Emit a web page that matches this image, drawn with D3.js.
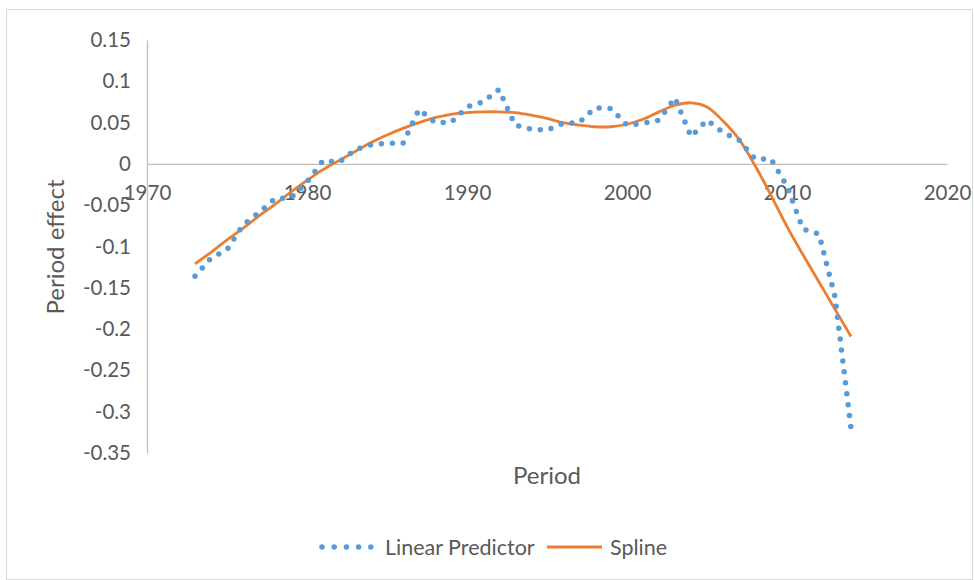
<!DOCTYPE html>
<html><head><meta charset="utf-8">
<script src="https://cdn.jsdelivr.net/npm/d3@7"></script>
<style>body{margin:0;background:#fff;} text{font-family:Lato, "Liberation Sans", sans-serif;fill:#595959;}</style>
</head><body>
<svg id="c" width="974" height="580"></svg>
<script>
const years = d3.range(1973, 2015);
const linearPredictor = [-0.136,-0.114,-0.104,-0.074,-0.059,-0.042,-0.041,-0.022,0.004,0.002,
 0.017,0.023,0.025,0.025,0.066,0.050,0.050,0.069,0.075,0.090,
 0.047,0.042,0.041,0.049,0.050,0.068,0.067,0.047,0.049,0.053,
 0.080,0.033,0.053,0.038,0.029,0.006,0.006,-0.027,-0.079,-0.085,
 -0.161,-0.320];
const spline = [-0.121,-0.107,-0.092,-0.078,-0.063,-0.049,-0.034,-0.020,-0.007,0.004,
 0.015,0.026,0.035,0.043,0.050,0.056,0.060,0.062,0.063,0.063,
 0.062,0.059,0.055,0.050,0.047,0.045,0.045,0.048,0.054,0.063,
 0.071,0.074,0.069,0.052,0.030,-0.002,-0.038,-0.076,-0.110,-0.143,
 -0.176,-0.209];
const xTicks = [1970,1980,1990,2000,2010,2020];
const yTicks = [0.15,0.1,0.05,0,-0.05,-0.1,-0.15,-0.2,-0.25,-0.3,-0.35];
const yTickLabels = ["0.15","0.1","0.05","0","-0.05","-0.1","-0.15","-0.2","-0.25","-0.3","-0.35"];
const seriesNames = ["Linear Predictor","Spline"];

const svg = d3.select("#c");
svg.append("rect").attr("x",6.5).attr("y",9.5).attr("width",966).attr("height",570)
  .attr("fill","#fff").attr("stroke","#d9d9d9");

const x = d3.scaleLinear().domain([1970,2020]).range([147,947]);
const y = d3.scaleLinear().domain([-0.35,0.15]).range([453,40]);

const yAxis = svg.append("g").attr("transform",`translate(${x(1970)},0)`)
  .call(d3.axisLeft(y).tickValues(yTicks).tickSize(0).tickPadding(16)
    .tickFormat((d,i)=>yTickLabels[i]));
const xAxis = svg.append("g").attr("transform",`translate(0,${y(0)})`)
  .call(d3.axisBottom(x).tickValues(xTicks).tickSize(0).tickPadding(22).tickFormat(d3.format("d")));
[yAxis,xAxis].forEach(g=>{
  g.select(".domain").attr("stroke","#bfbfbf").attr("stroke-width",1.3);
  g.selectAll("text").style("font-size","20.5px").attr("fill","#595959");
});

const line = (vals, curve) => d3.line().x((d,i)=>x(years[i])).y(d=>y(d)).curve(curve)(vals);

svg.append("path").attr("d", line(spline, d3.curveCatmullRom.alpha(0.5)))
  .attr("fill","none").attr("stroke","#ed7d31").attr("stroke-width",2.8);
svg.append("path").attr("d", line(linearPredictor, d3.curveLinear))
  .attr("fill","none").attr("stroke","#5b9bd5").attr("stroke-width",5.5)
  .attr("stroke-linecap","round").attr("stroke-dasharray","0 11");

svg.append("text").attr("x",547).attr("y",484).attr("text-anchor","middle")
  .style("font-size","24px").text("Period");
svg.append("text").attr("transform","translate(64,247) rotate(-90)").attr("text-anchor","middle")
  .style("font-size","24px").text("Period effect");

const lg = svg.append("g");
lg.append("line").attr("x1",322).attr("x2",372).attr("y1",547).attr("y2",547)
  .attr("stroke","#5b9bd5").attr("stroke-width",5.5).attr("stroke-linecap","round").attr("stroke-dasharray","0 12.2");
lg.append("text").attr("x",385).attr("y",554.5).style("font-size","21.5px").text(seriesNames[0]);
lg.append("line").attr("x1",547).attr("x2",602).attr("y1",547).attr("y2",547)
  .attr("stroke","#ed7d31").attr("stroke-width",2.8);
lg.append("text").attr("x",610).attr("y",554.5).style("font-size","21.5px").text(seriesNames[1]);
</script>
</body></html>
